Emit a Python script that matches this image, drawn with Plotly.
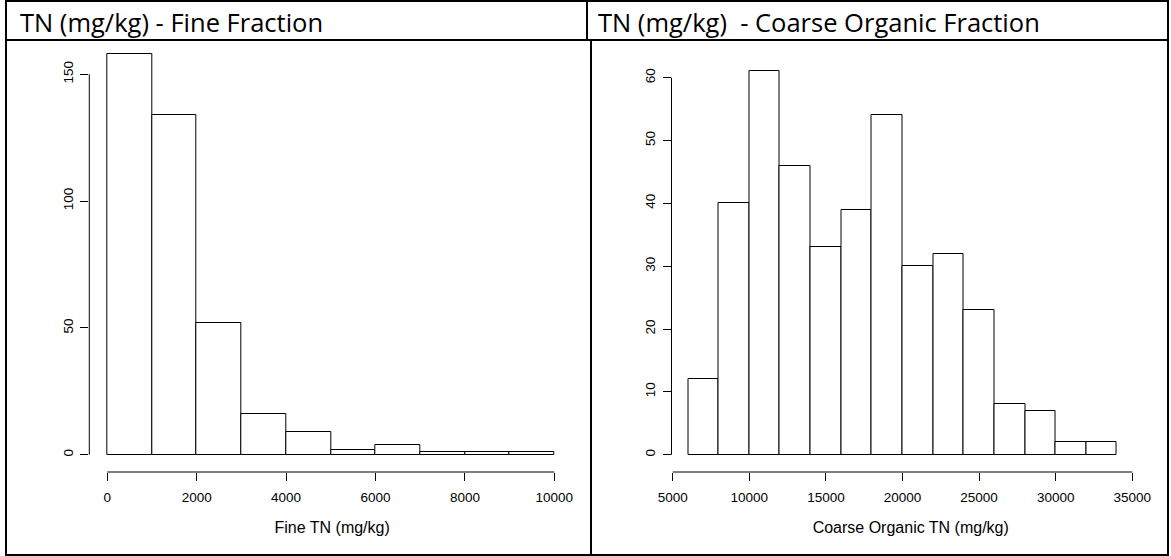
import plotly.graph_objects as go

# Histogram bins and counts
fine_edges = [0, 1000, 2000, 3000, 4000, 5000, 6000, 7000, 8000, 9000, 10000]
fine_counts = [158, 134, 52, 16, 9, 2, 4, 1, 1, 1]
fine_xticks = [0, 2000, 4000, 6000, 8000, 10000]
fine_yticks = [0, 50, 100, 150]

coarse_edges = [6000, 8000, 10000, 12000, 14000, 16000, 18000, 20000,
                22000, 24000, 26000, 28000, 30000, 32000, 34000]
coarse_counts = [12, 40, 61, 46, 33, 39, 54, 30, 32, 23, 8, 7, 2, 2]
coarse_xticks = [5000, 10000, 15000, 20000, 25000, 30000, 35000]
coarse_yticks = [0, 10, 20, 30, 40, 50, 60]

headers = ["TN (mg/kg) - Fine Fraction", "TN (mg/kg)  - Coarse Organic Fraction"]
x_titles = ["Fine TN (mg/kg)", "Coarse Organic TN (mg/kg)"]

W, H = 1171, 556


def px(x):
    return x / W


def py(y):
    return 1 - y / H


def centers(edges):
    return [(a + b) / 2 for a, b in zip(edges[:-1], edges[1:])]


def widths(edges):
    return [b - a for a, b in zip(edges[:-1], edges[1:])]


AXIS_FONT = dict(family="Liberation Sans, Arial, Helvetica, sans-serif", size=13.5, color="black")
TITLE_FONT = dict(family="Liberation Sans, Arial, Helvetica, sans-serif", size=16, color="black")
HEAD_FONT = dict(family="Open Sans, Lato, sans-serif", size=25.5, color="black")

fig = go.Figure()

fig.add_trace(go.Bar(
    x=centers(fine_edges), y=fine_counts, width=widths(fine_edges),
    marker=dict(color="white", line=dict(color="black", width=1)),
    xaxis="x", yaxis="y", showlegend=False, hoverinfo="skip",
))
fig.add_trace(go.Bar(
    x=centers(coarse_edges), y=coarse_counts, width=widths(coarse_edges),
    marker=dict(color="white", line=dict(color="black", width=1)),
    xaxis="x2", yaxis="y2", showlegend=False, hoverinfo="skip",
))

common = dict(showgrid=False, zeroline=False, showline=False, ticks="outside",
              ticklen=8, tickwidth=1, tickcolor="black", tickfont=AXIS_FONT,
              automargin=False, fixedrange=True)

fig.update_layout(
    width=W, height=H,
    margin=dict(l=0, r=0, t=0, b=0),
    paper_bgcolor="white", plot_bgcolor="white",
    bargap=0,
    xaxis=dict(domain=[px(89.3), px(575)], range=[-402.7, 10463],
               tickvals=fine_xticks, ticktext=[str(v) for v in fine_xticks],
               anchor="y", ticklabelstandoff=5,
               title=dict(text=x_titles[0], font=TITLE_FONT, standoff=17), **common),
    yaxis=dict(domain=[py(472), py(45)], range=[-6.82, 161.55],
               tickvals=fine_yticks, ticktext=[str(v) for v in fine_yticks],
               tickangle=-90, anchor="x", ticklabelstandoff=2, **common),
    xaxis2=dict(domain=[px(671.5), px(1150)], range=[4921.7, 36155],
                tickvals=coarse_xticks, ticktext=[str(v) for v in coarse_xticks],
                anchor="y2", ticklabelstandoff=5,
                title=dict(text=x_titles[1], font=TITLE_FONT, standoff=17), **common),
    yaxis2=dict(domain=[py(472), py(45)], range=[-2.753, 65.2],
                tickvals=coarse_yticks, ticktext=[str(v) for v in coarse_yticks],
                tickangle=-90, anchor="x2", ticklabelstandoff=2, **common),
)

shapes = []
# Axis lines spanning first to last tick
for xa, ya, xt, yt in [("x", "y", fine_xticks, fine_yticks),
                       ("x2", "y2", coarse_xticks, coarse_yticks)]:
    shapes.append(dict(type="line", xref=xa, yref=ya + " domain",
                       x0=xt[0], x1=xt[-1], y0=0, y1=0,
                       line=dict(color="black", width=1)))
    shapes.append(dict(type="line", xref=xa + " domain", yref=ya,
                       x0=0, x1=0, y0=yt[0], y1=yt[-1],
                       line=dict(color="black", width=1)))

# Table frame around the two panels
frame = dict(color="black", width=2)
shapes += [
    dict(type="rect", xref="paper", yref="paper", x0=px(6), x1=px(1168),
         y0=py(555), y1=py(1), line=frame),
    dict(type="line", xref="paper", yref="paper", x0=px(6), x1=px(1168),
         y0=py(40), y1=py(40), line=frame),
    dict(type="line", xref="paper", yref="paper", x0=px(587), x1=px(587),
         y0=py(1), y1=py(40), line=frame),
    dict(type="line", xref="paper", yref="paper", x0=px(591), x1=px(591),
         y0=py(40), y1=py(555), line=frame),
]
fig.update_layout(shapes=shapes)

fig.add_annotation(text=headers[0], xref="paper", yref="paper", x=px(18), y=py(22),
                   xanchor="left", yanchor="middle", showarrow=False, font=HEAD_FONT)
fig.add_annotation(text=headers[1], xref="paper", yref="paper", x=px(596), y=py(22),
                   xanchor="left", yanchor="middle", showarrow=False, font=HEAD_FONT)

fig.write_html("out.html")
